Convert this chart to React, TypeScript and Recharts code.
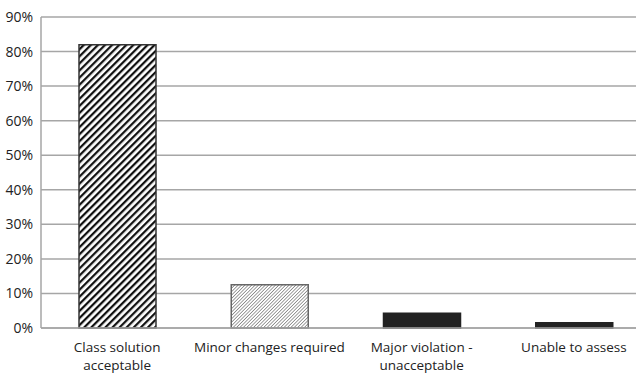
import React from 'react';
import { BarChart, Bar, XAxis, YAxis, CartesianGrid, Cell } from 'recharts';

const categories = ['Class solution\nacceptable', 'Minor changes required', 'Major violation -\nunacceptable', 'Unable to assess'];
const shares = [82, 12.5, 4.3, 1.5];
const yTicks = [0, 10, 20, 30, 40, 50, 60, 70, 80, 90];

const FILLS = ['url(#hatchWide)', 'url(#hatchFine)', '#222222', '#222222'];
const STROKES = ['#333333', '#666666', '#222222', '#222222'];

const data = categories.map((name, i) => ({ name, value: shares[i] }));

const FONT = '"Open Sans", sans-serif';

// x-axis labels wrap on "\n"
const CategoryTick = (props: any) => {
  const { x, y, payload } = props;
  const lines = String(payload.value).split('\n');
  return (
    <g transform={`translate(${x},${y})`}>
      {lines.map((line, i) => (
        <text
          key={i}
          x={0}
          y={i * 18}
          dy={16}
          textAnchor="middle"
          fontSize={13.5}
          fontFamily={FONT}
          fill="#222"
        >
          {line}
        </text>
      ))}
    </g>
  );
};

const App: React.FC = () => {
  return (
    <div style={{ position: 'absolute', left: 0, top: 0, width: 636, height: 373, overflow: 'hidden', background: '#fff' }}>
      <BarChart
        width={650}
        height={373}
        data={data}
        margin={{ top: 17, right: 0, left: 0, bottom: 5 }}
        barSize={77}
      >
        <defs>
          <pattern id="hatchWide" patternUnits="userSpaceOnUse" width="5" height="5" patternTransform="rotate(45)">
            <rect width="5" height="5" fill="#fff" />
            <line x1="0" y1="0" x2="0" y2="5" stroke="#111" strokeWidth="4.5" />
          </pattern>
          <pattern id="hatchFine" patternUnits="userSpaceOnUse" width="2.4" height="2.4" patternTransform="rotate(45)">
            <rect width="2.4" height="2.4" fill="#fff" />
            <line x1="0" y1="0" x2="0" y2="2.4" stroke="#888" strokeWidth="1.6" />
          </pattern>
        </defs>
        <CartesianGrid vertical={false} stroke="#a6a6a6" strokeWidth={1.5} />
        <XAxis
          dataKey="name"
          interval={0}
          tick={<CategoryTick />}
          tickLine={false}
          axisLine={{ stroke: '#a6a6a6', strokeWidth: 1.5 }}
          height={40}
        />
        <YAxis
          domain={[0, 90]}
          ticks={yTicks}
          interval={0}
          tickFormatter={(v: number) => `${v}%`}
          tick={{ fontSize: 14, fontFamily: FONT, fill: '#222' }}
          tickLine={false}
          axisLine={{ stroke: '#a6a6a6', strokeWidth: 1.5 }}
          width={41}
          tickMargin={2}
        />
        <Bar dataKey="value" isAnimationActive={false} strokeWidth={1.5}>
          {data.map((d, i) => (
            <Cell key={d.name} fill={FILLS[i]} stroke={STROKES[i]} />
          ))}
        </Bar>
      </BarChart>
    </div>
  );
};

export default App;
